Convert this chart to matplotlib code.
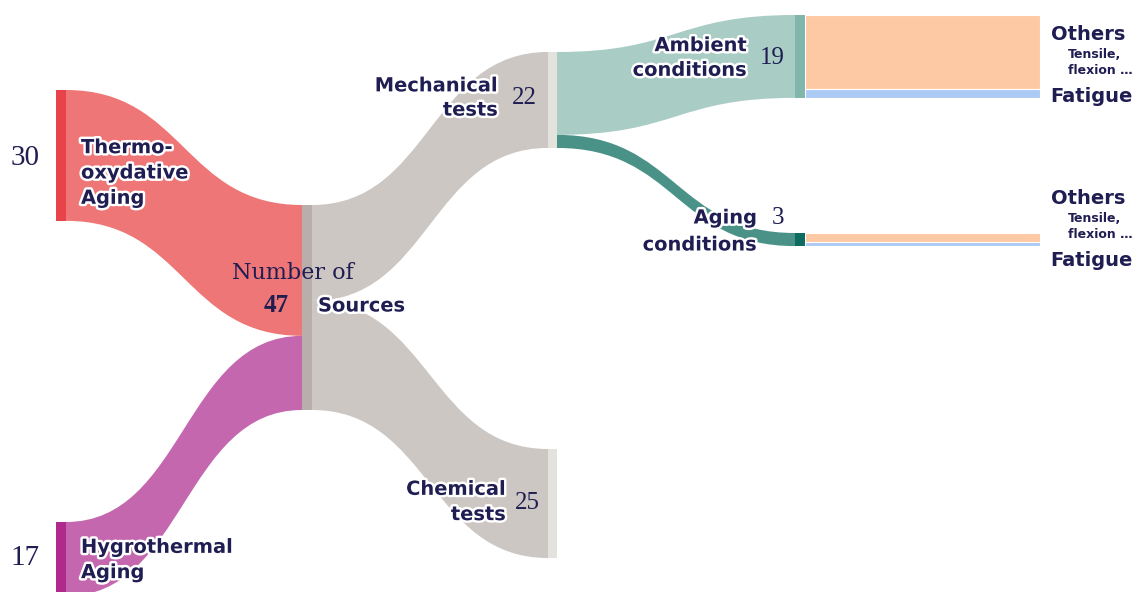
import matplotlib
matplotlib.use("Agg")
import matplotlib.pyplot as plt
from matplotlib.path import Path
from matplotlib.patches import PathPatch, Rectangle
import matplotlib.patheffects as pe

# ---------------- data ----------------
source_labels = ["Thermo-\noxydative\nAging", "Hygrothermal\nAging"]
source_values = [30, 17]
hub_label = "Sources"
hub_caption = "Number of"
test_labels = ["Mechanical\ntests", "Chemical\ntests"]
test_values = [22, 25]
cond_labels = ["Ambient\nconditions", "Aging\nconditions"]
cond_values = [19, 3]
outcome_labels = ["Others", "Fatigue"]
outcome_note = "Tensile,\nflexion …"
ambient_outcomes = [17, 2]
aging_outcomes = [2, 1]

# ---------------- styling / layout ----------------
W, H = 1137, 592
TXT = "#1f1d52"
SANS = ["DejaVu Sans"]
NUMF = ["Liberation Serif", "DejaVu Serif"]
k = 205.0 / sum(source_values)   # pixels per unit

src_node_c = ["#e8424a", "#b02a8e"]
src_link_c = ["#ee7677", "#c467ae"]
hub_node_c = "#b8afab"
hub_link_c = "#cdc7c3"
test_node_c = "#e3e2dc"
cond_node_c = ["#80b6ab", "#0f6b5f"]
cond_link_c = ["#a9cdc5", "#4a9288"]
out_c = ["#fdc8a4", "#abcbf5"]

x_src, x_hub, x_test, x_cond, x_end = 56, 302, 548, 795, 1040
nw = [10, 10, 9, 10]
src_tops = [90, 522]
hub_top = 205
test_tops = [52, 449]
cond_tops = [15, 233]

fig = plt.figure(figsize=(W / 100, H / 100), dpi=100)
ax = fig.add_axes([0, 0, 1, 1])
ax.set_xlim(0, W)
ax.set_ylim(H, 0)
ax.axis("off")


def band(x0, a0, b0, x1, a1, b1, color):
    xm = (x0 + x1) / 2
    verts = [(x0, a0), (xm, a0), (xm, a1), (x1, a1), (x1, b1),
             (xm, b1), (xm, b0), (x0, b0), (x0, a0)]
    codes = [Path.MOVETO, Path.CURVE4, Path.CURVE4, Path.CURVE4, Path.LINETO,
             Path.CURVE4, Path.CURVE4, Path.CURVE4, Path.CLOSEPOLY]
    ax.add_patch(PathPatch(Path(verts, codes), facecolor=color, edgecolor="none", lw=0))


def node(x, top, w, v, color):
    ax.add_patch(Rectangle((x, top), w, v * k, facecolor=color, edgecolor="none", zorder=3))


stroke = [pe.withStroke(linewidth=3.5, foreground="white")]


def label(x, y, s, ha="left", size=14, ls=1.42):
    ax.text(x, y, s, ha=ha, va="center", fontsize=size, fontweight="bold",
            family=SANS, color=TXT, linespacing=ls, path_effects=stroke, zorder=5)


def num(x, y, s, size=18, ha="left", weight="normal"):
    ax.text(x, y, s, ha=ha, va="center", fontsize=size, family=NUMF,
            color=TXT, fontweight=weight, zorder=5)


# sources -> hub
hub_y = hub_top
for i, v in enumerate(source_values):
    t = src_tops[i]
    band(x_src + nw[0], t, t + v * k, x_hub, hub_y, hub_y + v * k, src_link_c[i])
    node(x_src, t, nw[0], v, src_node_c[i])
    hub_y += v * k
node(x_hub, hub_top, nw[1], sum(source_values), hub_node_c)

# hub -> tests
hub_y = hub_top
for i, v in enumerate(test_values):
    t = test_tops[i]
    band(x_hub + nw[1], hub_y, hub_y + v * k, x_test, t, t + v * k, hub_link_c)
    node(x_test, t, nw[2], v, test_node_c)
    hub_y += v * k

# mechanical -> conditions
m_y = test_tops[0]
for i, v in enumerate(cond_values):
    t = cond_tops[i]
    band(x_test + nw[2], m_y, m_y + v * k, x_cond, t, t + v * k, cond_link_c[i])
    node(x_cond, t, nw[3], v, cond_node_c[i])
    m_y += v * k

# conditions -> outcomes
for i, outs in enumerate([ambient_outcomes, aging_outcomes]):
    y = cond_tops[i]
    for j, v in enumerate(outs):
        ax.add_patch(Rectangle((x_cond + nw[3], y), x_end - x_cond - nw[3], v * k,
                               facecolor=out_c[j], edgecolor="white", lw=0.8, zorder=2))
        y += v * k

# ---------------- text ----------------
# level 0
num(25, 158, str(source_values[0]), size=21, ha="center")
label(81, 173, source_labels[0])
num(25, 558, str(source_values[1]), size=21, ha="center")
label(81, 560, source_labels[1])

# hub
ax.text(293, 273, hub_caption, ha="center", va="center", fontsize=16,
        family=["DejaVu Serif"], color=TXT, zorder=5)
num(276, 306, str(sum(source_values)), size=18, ha="center", weight="bold")
label(318, 306, hub_label)

# tests
label(498, 98, test_labels[0], ha="right", ls=1.35)
num(512, 98, str(test_values[0]))
label(506, 502, test_labels[1], ha="right")
num(515, 503, str(test_values[1]))

# conditions
label(747, 58, cond_labels[0], ha="right", ls=1.38)
num(760, 58, str(cond_values[0]))
ax.text(757, 218, "Aging", ha="right", va="center", fontsize=14, fontweight="bold",
        family=SANS, color=TXT, path_effects=stroke, zorder=5)
ax.text(757, 245, "conditions", ha="right", va="center", fontsize=14, fontweight="bold",
        family=SANS, color=TXT, path_effects=stroke, zorder=5)
num(772, 218, str(cond_values[1]))

# outcomes
for yo in (0, 164):
    ax.text(1088, 35 + yo, outcome_labels[0], ha="center", va="center", fontsize=14,
            fontweight="bold", family=SANS, color=TXT, zorder=5)
    ax.text(1068, 63 + yo, outcome_note, ha="left", va="center", fontsize=9,
            fontweight="bold", family=SANS, color=TXT, linespacing=1.3, zorder=5)
    ax.text(1091, 96 + yo, outcome_labels[1], ha="center", va="center", fontsize=14,
            fontweight="bold", family=SANS, color=TXT, zorder=5)

fig.savefig("out.png", dpi=100, facecolor="white")
